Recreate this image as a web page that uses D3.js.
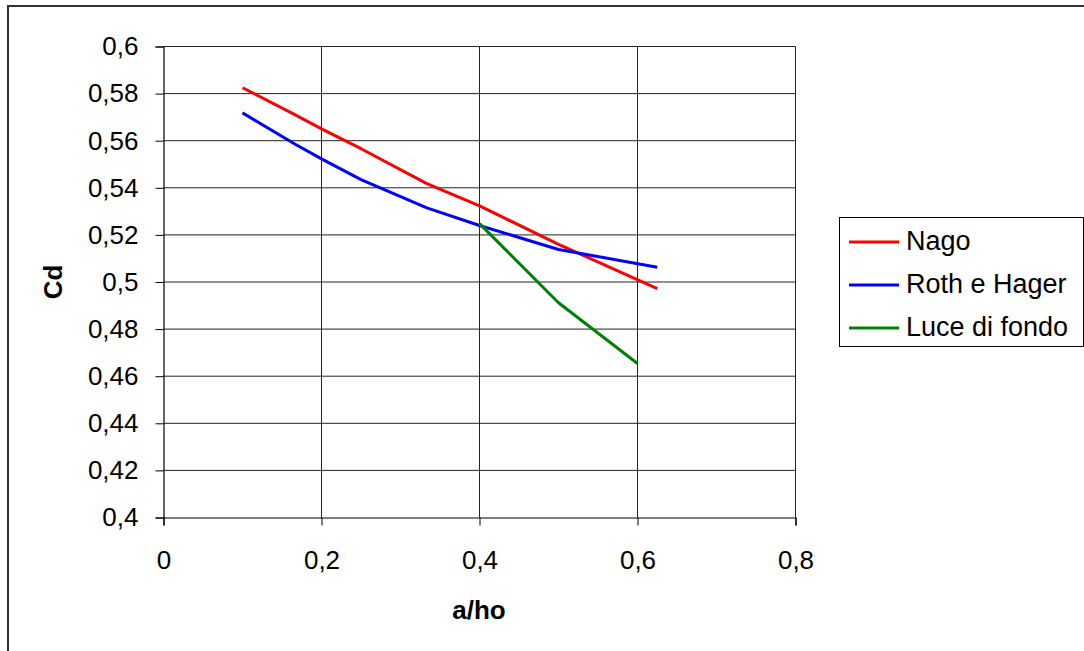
<!DOCTYPE html>
<html><head><meta charset="utf-8">
<script src="https://cdn.jsdelivr.net/npm/d3@7"></script>
<style>body{margin:0;background:#fff}svg{display:block;font-family:"Liberation Sans",Arial,sans-serif}</style>
</head><body><svg id="c" width="1084" height="651"></svg>
<script>
const xTicks = [0, 0.2, 0.4, 0.6, 0.8];
const yTicks = [0.4, 0.42, 0.44, 0.46, 0.48, 0.5, 0.52, 0.54, 0.56, 0.58, 0.6];
const seriesNames = ["Nago", "Roth e Hager", "Luce di fondo"];
const seriesColors = ["#ff0000", "#0000ff", "#008000"];
const nagoX = [0.1, 0.1667, 0.2, 0.25, 0.3333, 0.4, 0.5, 0.625];
const nagoY = [0.5825, 0.571, 0.565, 0.5566, 0.5418, 0.5323, 0.516, 0.4972];
const rothX = [0.1, 0.1667, 0.2, 0.25, 0.3333, 0.4, 0.5, 0.625];
const rothY = [0.5718, 0.5585, 0.5523, 0.5435, 0.5315, 0.524, 0.5138, 0.5063];
const luceX = [0.4, 0.5, 0.6];
const luceY = [0.5248, 0.4912, 0.4654];

const svg = d3.select("#c");
const FS = 26;
const fmt = d => String(d).replace(".", ",");
const x = d3.scaleLinear().domain([0, 0.8]).range([163.5, 795.5]);
const y = d3.scaleLinear().domain([0.4, 0.6]).range([517.5, 46.5]);

// outer frame
svg.append("rect").attr("x", 8).attr("y", 6).attr("width", 1100).attr("height", 700)
  .attr("fill", "none").attr("stroke", "#333").attr("stroke-width", 2);

// gridlines
svg.append("g").selectAll("line").data(yTicks.slice(1)).join("line")
  .attr("x1", x(0)).attr("x2", x(0.8)).attr("y1", d => y(d)).attr("y2", d => y(d))
  .attr("stroke", "#222").attr("stroke-width", 1);
svg.append("g").selectAll("line").data(xTicks.slice(1)).join("line")
  .attr("y1", y(0.4)).attr("y2", y(0.6)).attr("x1", d => x(d)).attr("x2", d => x(d))
  .attr("stroke", "#222").attr("stroke-width", 1);

// axes
const yAxis = svg.append("g").attr("transform", `translate(${x(0)},0)`)
  .call(d3.axisLeft(y).tickValues(yTicks).tickFormat(fmt).tickSize(8).tickPadding(17));
const xAxis = svg.append("g").attr("transform", `translate(0,${y(0.4)})`)
  .call(d3.axisBottom(x).tickValues(xTicks).tickFormat(fmt).tickSize(8).tickPadding(25));
[yAxis, xAxis].forEach(a => {
  a.attr("font-size", FS).attr("font-family", "'Liberation Sans', Arial, sans-serif");
  a.select(".domain").attr("stroke", "#000").attr("stroke-width", 1.2);
  a.selectAll(".tick line").attr("stroke", "#000");
  a.selectAll("text").attr("fill", "#000");
});

// axis titles
svg.append("text").attr("x", 479).attr("y", 619).attr("text-anchor", "middle")
  .attr("font-size", FS).attr("font-weight", "bold").text("a/ho");
svg.append("text").attr("transform", `translate(62,${y(0.5)}) rotate(-90)`).attr("text-anchor", "middle")
  .attr("font-size", FS).attr("font-weight", "bold").text("Cd");

// lines
const data = [
  nagoX.map((v, i) => [v, nagoY[i]]),
  rothX.map((v, i) => [v, rothY[i]]),
  luceX.map((v, i) => [v, luceY[i]])
];
const line = d3.line().x(d => x(d[0])).y(d => y(d[1]));
svg.append("g").selectAll("path").data(data).join("path")
  .attr("d", line).attr("fill", "none")
  .attr("stroke", (d, i) => seriesColors[i]).attr("stroke-width", 3)
  .attr("stroke-linejoin", "round");

// legend
const lg = svg.append("g");
lg.append("rect").attr("x", 839.5).attr("y", 217.5).attr("width", 244).attr("height", 129)
  .attr("fill", "#fff").attr("stroke", "#000").attr("stroke-width", 1);
seriesNames.forEach((n, i) => {
  const cy = 242 + i * 43;
  lg.append("line").attr("x1", 849).attr("x2", 899).attr("y1", cy).attr("y2", cy)
    .attr("stroke", seriesColors[i]).attr("stroke-width", 3);
  lg.append("text").attr("x", 906).attr("y", cy + 8).attr("font-size", 27).text(n);
});
</script></body></html>
